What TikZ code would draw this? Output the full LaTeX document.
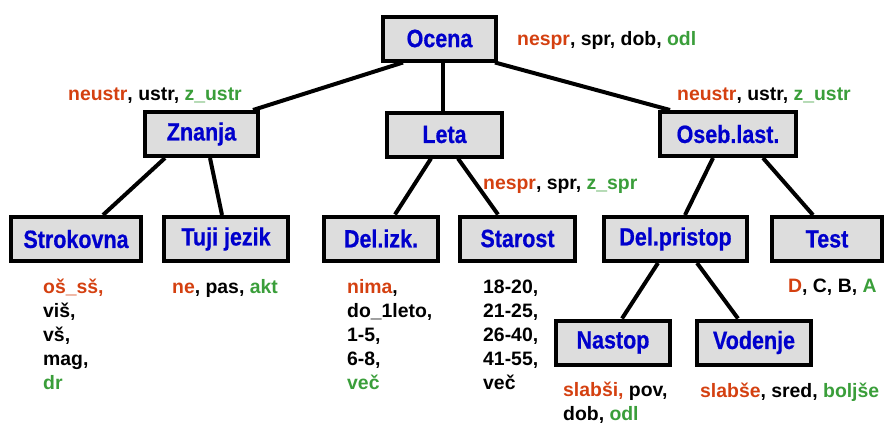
\documentclass[tikz,border=0pt]{standalone}
\usepackage{fontspec}
\setmainfont{Liberation Sans}
\newfontfamily\boxfont{Liberation Sans}[FakeStretch=0.86,FakeBold=0.6]
\usetikzlibrary{calc,backgrounds}
\definecolor{lred}{RGB}{212,64,16}
\definecolor{lgreen}{RGB}{58,158,58}
\definecolor{lblue}{RGB}{0,0,204}
\definecolor{boxgray}{RGB}{221,221,221}
\newcommand{\rd}[1]{\textcolor{lred}{#1}}
\newcommand{\gn}[1]{\textcolor{lgreen}{#1}}
\begin{document}
\begin{tikzpicture}[x=1pt,y=-1pt,
  attrbox/.style={draw=black, line width=4pt, fill=boxgray, rectangle,
    minimum height=44pt, inner sep=0pt, text=lblue,
    font=\boxfont\bfseries\fontsize{25}{28}\selectfont},
  conn/.style={line width=4pt},
  vals/.style={anchor=base west, inner sep=0pt, align=left,
    font=\bfseries\fontsize{19.4}{24}\selectfont}]
\useasboundingbox (0,0) rectangle (885,423);
% boxes
\node[attrbox, minimum width=113pt] (ocena) at (439.5,38.5) {Ocena};
\node[attrbox, minimum width=113pt] (znanja) at (201.5,134) {Znanja};
\node[attrbox, minimum width=115pt] (leta) at (444.5,134.5) {Leta};
\node[attrbox, minimum width=136pt] (oseb) at (728,134) {Oseb.last.};
\node[attrbox, minimum width=130pt] (strokovna) at (76,239) {Strokovna};
\node[attrbox, minimum width=124pt] (tuji) at (226,239) {Tuji jezik};
\node[attrbox, minimum width=114pt] (delizk) at (381,238.5) {Del.izk.};
\node[attrbox, minimum width=115pt] (starost) at (517.5,238.5) {Starost};
\node[attrbox, minimum width=143pt] (delpristop) at (675.5,239) {Del.pristop};
\node[attrbox, minimum width=110pt] (test) at (827,239) {Test};
\node[attrbox, minimum width=114pt] (nastop) at (613,342.5) {Nastop};
\node[attrbox, minimum width=114pt] (vodenje) at (754,342.5) {Vodenje};
% connectors
\begin{scope}[on background layer]
\draw[conn] ($(ocena.south)+(-36.5,0)$) -- ($(znanja.north)+(51.5,0)$);
\draw[conn] ($(ocena.south)+(3.5,0)$) -- ($(leta.north)+(-1.5,0)$);
\draw[conn] ($(ocena.south)+(55.5,0)$) -- ($(oseb.north)+(-58,0)$);
\draw[conn] ($(znanja.south)+(-36.5,0)$) -- ($(strokovna.north)+(27,0)$);
\draw[conn] ($(znanja.south)+(8.5,0)$) -- ($(tuji.north)+(-4,0)$);
\draw[conn] ($(leta.south)+(-13.5,0)$) -- ($(delizk.north)+(14,0)$);
\draw[conn] ($(leta.south)+(13.5,0)$) -- ($(starost.north)+(-19.5,0)$);
\draw[conn] ($(oseb.south)+(-15,0)$) -- ($(delpristop.north)+(9.5,0)$);
\draw[conn] ($(oseb.south)+(35,0)$) -- ($(test.north)+(-14,0)$);
\draw[conn] ($(delpristop.south)+(-17.5,0)$) -- ($(nastop.north)+(9,0)$);
\draw[conn] ($(delpristop.south)+(21.5,0)$) -- ($(vodenje.north)+(-16,0)$);
\end{scope}
% value labels (multi-line nodes: base = baseline of last line)
\node[vals] (vocena) at (517,45) {\rd{nespr}, spr, dob, \gn{odl}};
\node[vals] (vznanja) at (68,100) {\rd{neustr}, ustr, \gn{z\_ustr}};
\node[vals] (voseb) at (677,100) {\rd{neustr}, ustr, \gn{z\_ustr}};
\node[vals] (vleta) at (483,189) {\rd{nespr}, spr, \gn{z\_spr}};
\node[vals] (vstrokovna) at (43,389) {\rd{oš\_sš,}\\viš,\\vš,\\mag,\\\gn{dr}};
\node[vals] (vtuji) at (172,293) {\rd{ne}, pas, \gn{akt}};
\node[vals] (vdelizk) at (347,389) {\rd{nima},\\do\_1leto,\\1-5,\\6-8,\\\gn{več}};
\node[vals] (vstarost) at (483,389) {18-20,\\21-25,\\26-40,\\41-55,\\več};
\node[vals] (vtest) at (788,292) {\rd{D}, C, B, \gn{A}};
\node[vals] (vnastop) at (563,420) {\rd{slabši,} pov,\\dob, \gn{odl}};
\node[vals] (vvodenje) at (700,397) {\rd{slabše}, sred, \gn{boljše}};
\end{tikzpicture}
\end{document}
